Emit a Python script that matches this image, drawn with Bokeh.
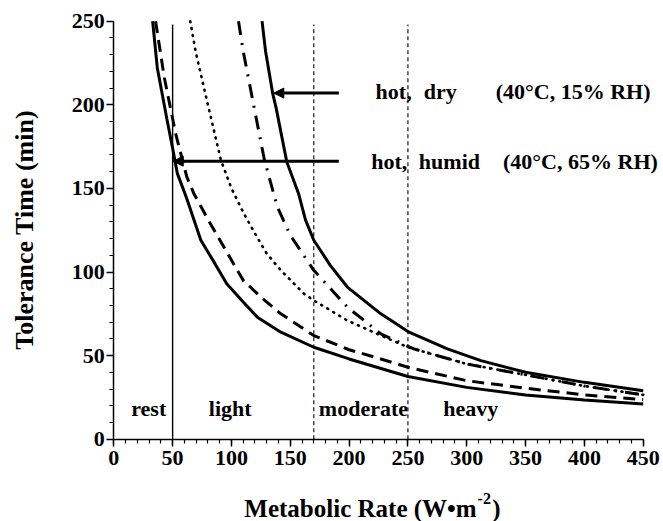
import math
from bokeh.plotting import figure
from bokeh.models import Range1d, FixedTicker, Label, Arrow, NormalHead
from bokeh.embed import file_html
from bokeh.resources import INLINE

# ---------------- data ----------------
humid_x = [33, 37, 45, 50, 54, 62, 74, 86, 96, 110, 122, 142, 170, 200, 250, 300, 350, 400, 450]
humid_y = [250, 222, 192, 174, 159, 144, 119, 105, 93, 82, 73, 64, 55, 48, 37.5, 31, 26.5, 23.5, 21]
dashed_x = [35.5, 43, 52.5, 62, 68, 82, 96, 110, 125, 142, 170, 200, 227, 250, 300, 350, 400, 450]
dashed_y = [250, 216, 183, 157, 147, 129, 112, 95, 85, 75, 62, 53.5, 48, 43, 35, 30.5, 26.5, 23.7]
dotted_x = [65, 69.5, 79, 91, 100, 110.5, 120, 130, 142, 161.6, 170, 198.5, 227, 250, 300, 350, 400, 450]
dotted_y = [250, 232, 203, 167, 150, 135, 123, 111, 101, 87, 83, 71, 62, 55, 45, 38.5, 31.8, 26.5]
dashdot_x = [106, 110, 118, 128, 139, 150, 170, 198.5, 227, 255, 300, 350, 400, 450]
dashdot_y = [250, 232, 203, 167, 139, 122, 101, 79, 63, 54, 45, 38.5, 31.8, 26.5]
dry_x = [126, 129, 135, 138, 147, 157, 163, 170, 184, 198.5, 227, 251, 283.5, 312, 350, 400, 450]
dry_y = [250, 232, 207, 198, 166, 147, 131, 119, 104, 91, 75, 64, 54, 47, 40, 34, 29]

boundary_solid_x = [50]
boundary_dashed_x = [170, 250]
boundary_top = 248

region_names = ["rest", "light", "moderate", "heavy"]
region_label_x = [14.8, 80.8, 174.3, 280.1]
region_label_y = 18.4

cond_words = [["hot,", "dry", "(40\u00b0C, 15% RH)"],
              ["hot,", "humid", "(40\u00b0C, 65% RH)"]]
cond_word_x = [[222.5, 263.5, 324.6],
               [218.8, 259.3, 330.8]]
cond_baseline_y = [208.0, 166.1]

arrow_y = [207, 166.3]
arrow_tail_x = [191.3, 191.3]
arrow_tip_x = [136.0, 50.5]

x_ticks = [0, 50, 100, 150, 200, 250, 300, 350, 400, 450]
y_ticks = [0, 50, 100, 150, 200, 250]

x_title = "Metabolic Rate (W\u2022m"
x_title_sup = "-2"
y_title = "Tolerance Time (min)"

FONT = "Liberation Serif"

# ---------------- figure (frame fills the canvas; axes fixed at 0) ----------------
p = figure(width=663, height=521,
           x_range=Range1d(-96.3, 467.23), y_range=Range1d(-49.22, 262.38),
           output_backend="svg", toolbar_location=None,
           min_border_left=0, min_border_right=0,
           min_border_top=0, min_border_bottom=0)
p.outline_line_color = None
p.grid.visible = False
p.background_fill_color = "white"
p.border_fill_color = "white"

p.xaxis.ticker = FixedTicker(ticks=x_ticks, minor_ticks=list(range(0, 451, 10)))
p.yaxis.ticker = FixedTicker(ticks=y_ticks, minor_ticks=list(range(0, 251, 10)))
p.xaxis.bounds = (0, 450)
p.yaxis.bounds = (0, 250)
p.xaxis.fixed_location = 0
p.yaxis.fixed_location = 0

for ax in (p.xaxis[0], p.yaxis[0]):
    ax.axis_line_color = "black"
    ax.axis_line_width = 1.5
    ax.major_tick_line_color = "black"
    ax.major_tick_line_width = 1.5
    ax.minor_tick_line_color = "black"
    ax.minor_tick_line_width = 1.2
    ax.major_tick_out = 7
    ax.major_tick_in = 0
    ax.minor_tick_out = 4
    ax.minor_tick_in = 0
    ax.major_label_text_font = FONT
    ax.major_label_text_font_style = "bold"
    ax.major_label_text_font_size = "22px"
    ax.major_label_text_color = "black"

p.xaxis.major_label_standoff = 5
p.yaxis.major_label_standoff = 2

p.segment(x0=boundary_solid_x, y0=[0] * len(boundary_solid_x),
          x1=boundary_solid_x, y1=[boundary_top] * len(boundary_solid_x),
          line_color="black", line_width=1.4)
p.segment(x0=boundary_dashed_x, y0=[0] * len(boundary_dashed_x),
          x1=boundary_dashed_x, y1=[boundary_top] * len(boundary_dashed_x),
          line_color="black", line_width=1.1, line_dash="4 3")

p.line(humid_x, humid_y, line_color="black", line_width=3)
p.line(dashed_x, dashed_y, line_color="black", line_width=3, line_dash="12 7")
p.line(dotted_x, dotted_y, line_color="black", line_width=2.6, line_dash="1 6",
       line_cap="round")
p.line(dashdot_x, dashdot_y, line_color="black", line_width=3, line_dash="14 8 2 8")
p.line(dry_x, dry_y, line_color="black", line_width=3)

for ay, tx, hx in zip(arrow_y, arrow_tail_x, arrow_tip_x):
    p.add_layout(Arrow(x_start=tx, y_start=ay, x_end=hx, y_end=ay,
                       line_color="black", line_width=3,
                       end=NormalHead(size=10, fill_color="black",
                                      line_color="black", line_width=1)))

def add_text(x, y, t, size, align="left", angle=0.0):
    p.add_layout(Label(x=x, y=y, text=t, text_font=FONT, text_font_style="bold",
                       text_font_size=size, text_color="black", angle=angle,
                       text_baseline="alphabetic", text_align=align))

for name, lx in zip(region_names, region_label_x):
    add_text(lx, region_label_y, name, "22px")

for words, xs, by in zip(cond_words, cond_word_x, cond_baseline_y):
    for w, wx in zip(words, xs):
        add_text(wx, by, w, "22px")

# axis titles
add_text(308.4, -41.6, x_title, "25px", align="right")
add_text(309.2, -35.3, x_title_sup, "16px")
add_text(321.6, -41.6, ")", "25px")
add_text(-75.6, 125.2, y_title, "26px", align="center", angle=math.pi / 2)

open("out.html", "w").write(file_html(p, INLINE))
